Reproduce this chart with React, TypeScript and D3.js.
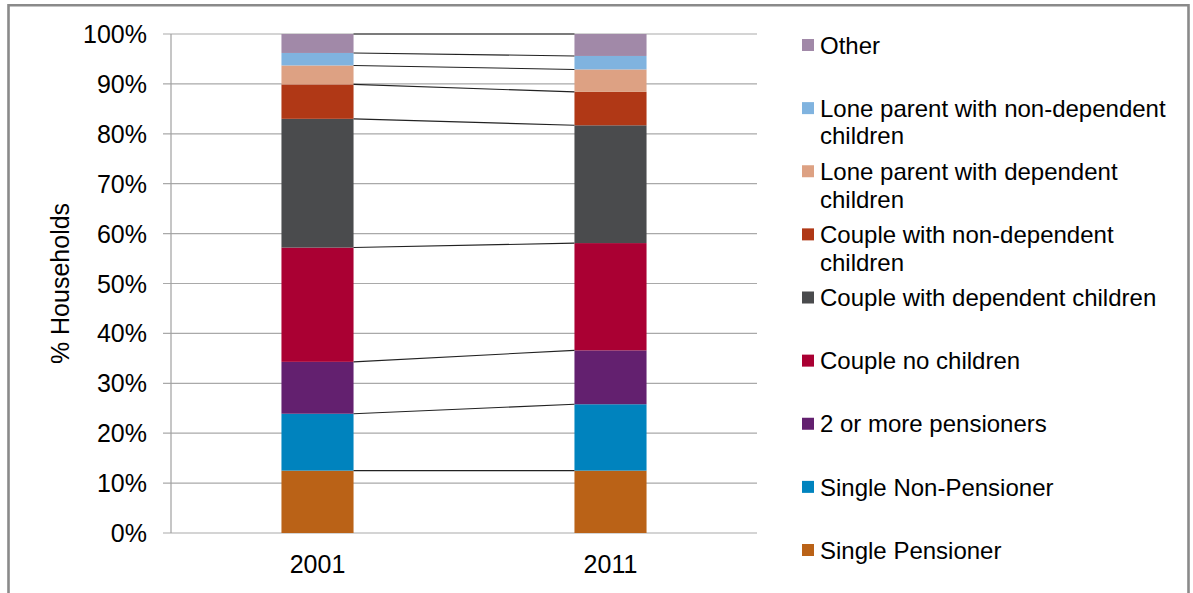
import React from "react";
import * as d3 from "d3";

const years = ["2001", "2011"];
const categories = [
  "Single Pensioner",
  "Single Non-Pensioner",
  "2 or more pensioners",
  "Couple no children",
  "Couple with dependent children",
  "Couple with non-dependent children",
  "Lone parent with dependent children",
  "Lone parent with non-dependent children",
  "Other",
];
const values2001 = [12.5, 11.4, 10.4, 22.9, 25.8, 6.9, 3.8, 2.5, 3.8];
const values2011 = [12.5, 13.3, 10.8, 21.5, 23.6, 6.7, 4.5, 2.7, 4.4];
const colors = [
  "#BA6217",
  "#0083BE",
  "#63206F",
  "#AA0033",
  "#4A4B4D",
  "#B03816",
  "#DDA183",
  "#80B3DF",
  "#A189A8",
];
const legendLines = [
  ["Single Pensioner"],
  ["Single Non-Pensioner"],
  ["2 or more pensioners"],
  ["Couple no children"],
  ["Couple with dependent children"],
  ["Couple with non-dependent", "children"],
  ["Lone parent with dependent", "children"],
  ["Lone parent with non-dependent", "children"],
  ["Other"],
];
const yTicks = [0, 10, 20, 30, 40, 50, 60, 70, 80, 90, 100];

const W = 1193;
const H = 593;
const plot = { left: 171, right: 757, top: 34, bottom: 533 };
const FONT = "'Liberation Sans', Arial, sans-serif";

export default function App() {
  const rows = years.map((yr, i) => {
    const vals = i === 0 ? values2001 : values2011;
    const r: Record<string, any> = { year: yr };
    categories.forEach((c, j) => (r[c] = vals[j]));
    return r;
  });
  const stacked = d3.stack().keys(categories)(rows as any);

  const x = d3
    .scaleBand()
    .domain(years)
    .range([plot.left, plot.right])
    .paddingInner(0.754)
    .paddingOuter(0.377);
  const y = d3.scaleLinear().domain([0, 100]).range([plot.bottom, plot.top]);
  const bw = x.bandwidth();

  const legendY = d3
    .scalePoint()
    .domain([...categories].reverse())
    .range([45, 550]);

  return (
    <svg
      width={W}
      height={H}
      style={{ position: "absolute", left: 0, top: 0, background: "#fff" }}
      fontFamily={FONT}
    >
      <rect x={0} y={0} width={W} height={H} fill="#fff" />
      {/* frame */}
      <path
        d={`M8.5,${H + 5} V5.3 H1188.5 V${H + 5}`}
        fill="none"
        stroke="#8a8a8a"
        strokeWidth={2.6}
      />

      {/* gridlines and ticks */}
      {yTicks.map((t) => (
        <g key={t}>
          <line
            x1={163}
            x2={plot.right}
            y1={y(t)}
            y2={y(t)}
            stroke="#a9a9a9"
            strokeWidth={1.2}
          />
          <text
            x={147}
            y={y(t)}
            dy="0.36em"
            textAnchor="end"
            fontSize={25}
            fill="#000"
          >
            {t}%
          </text>
        </g>
      ))}

      {/* stacked bars */}
      {stacked.map((layer, i) => (
        <g key={categories[i]} fill={colors[i]}>
          {layer.map((d: any) => (
            <rect
              key={d.data.year}
              x={x(d.data.year)}
              y={y(d[1])}
              width={bw}
              height={y(d[0]) - y(d[1])}
            />
          ))}
        </g>
      ))}

      {/* series lines joining segment tops */}
      {stacked.map((layer, i) => (
        <line
          key={"s" + i}
          x1={(x(years[0]) as number) + bw}
          x2={x(years[1]) as number}
          y1={y(layer[0][1])}
          y2={y(layer[1][1])}
          stroke="#222"
          strokeWidth={1.1}
        />
      ))}

      {/* vertical axis */}
      <line
        x1={plot.left}
        x2={plot.left}
        y1={plot.top}
        y2={plot.bottom}
        stroke="#a0a0a0"
        strokeWidth={1.2}
      />

      {/* category labels */}
      {years.map((yr) => (
        <text
          key={yr}
          x={(x(yr) as number) + bw / 2}
          y={573}
          textAnchor="middle"
          fontSize={25}
          fill="#000"
        >
          {yr}
        </text>
      ))}

      {/* axis title */}
      <text
        transform={`translate(60,${(plot.top + plot.bottom) / 2}) rotate(-90)`}
        textAnchor="middle"
        dy="0.36em"
        fontSize={25}
        fill="#000"
      >
        % Households
      </text>

      {/* legend */}
      {categories.map((c, i) => {
        const cy = legendY(c) as number;
        return (
          <g key={"l" + c}>
            <rect x={802} y={cy - 6} width={12} height={12} fill={colors[i]} />
            {legendLines[i].map((ln, k) => (
              <text
                key={k}
                x={820}
                y={cy + k * 27.7}
                dy="0.36em"
                fontSize={24}
                fill="#000"
              >
                {ln}
              </text>
            ))}
          </g>
        );
      })}
    </svg>
  );
}
